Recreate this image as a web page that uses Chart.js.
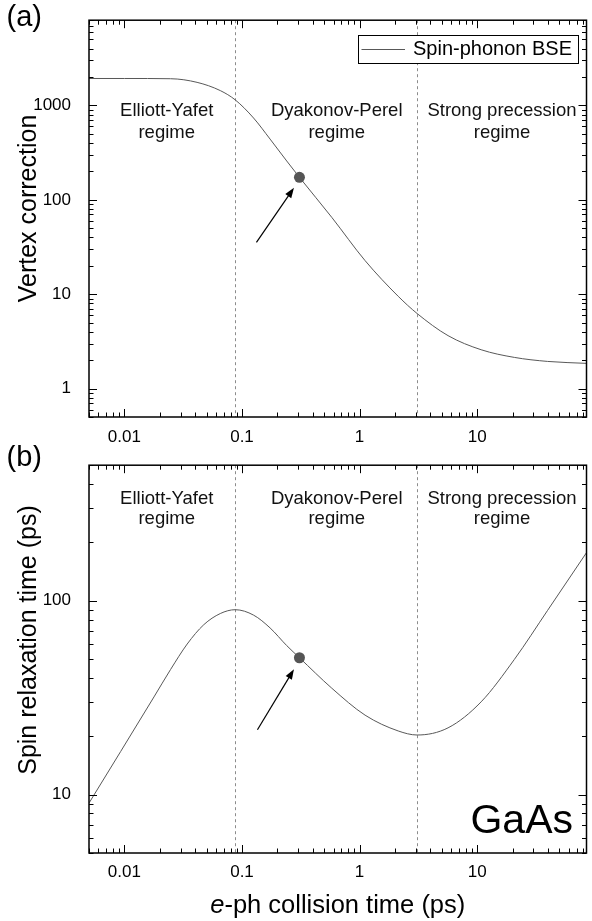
<!DOCTYPE html>
<html>
<head>
<meta charset="utf-8">
<script src="https://cdn.jsdelivr.net/npm/chart.js@4.4.1/dist/chart.umd.min.js"></script>
<style>
  html, body { margin: 0; padding: 0; background: #fff; }
  body { width: 592px; height: 921px; position: relative; overflow: hidden; }
  canvas { position: absolute; left: 0; }
  #chartA { top: 0; }
  #chartB { top: 445px; }
</style>
</head>
<body>
<canvas id="chartA" width="592" height="452"></canvas>
<canvas id="chartB" width="592" height="476"></canvas>
<script>
const FONT = "'Liberation Sans', Arial, Helvetica, sans-serif";

// ---- shared x axis: e-ph collision time (ps) ----
const xMin = 0.005, xMax = 85;
const xMajorTicks = [0.01, 0.1, 1, 10];
const xTickLabels = ['0.01', '0.1', '1', '10'];

// ---- panel (a): vertex correction ----
const tauA = [0.005, 0.01, 0.0247, 0.0415, 0.0654, 0.0876, 0.1254, 0.1733, 0.24, 0.308, 0.58, 1.113, 2.13, 3.08, 5.65, 10.8, 20.7, 39.7, 85];
const vertexCorrection = [1930, 1930, 1919, 1756, 1436, 1145, 736, 440, 258, 173, 65.2, 22.7, 9.5, 6.25, 3.64, 2.58, 2.14, 1.94, 1.85];
const yMinA = 0.5, yMaxA = 8000;
const yMajorTicksA = [1, 10, 100, 1000];
const yTickLabelsA = ['1', '10', '100', '1000'];

// ---- panel (b): spin relaxation time (ps) ----
const tauB = [0.00502, 0.0093, 0.01784, 0.0247, 0.0342, 0.0473, 0.0654, 0.0876, 0.1254, 0.1733, 0.24, 0.308, 0.58, 1.113, 2.13, 3.08, 5.65, 10.8, 20.7, 39.7, 85];
const spinRelaxationTime = [9.08, 16.7, 31.9, 44.2, 59.8, 75.2, 85.9, 89.9, 84.3, 72.4, 58.7, 50.8, 35.4, 25.7, 21.3, 20.3, 22.1, 30.1, 49.8, 89.2, 177];
const yMinB = 5, yMaxB = 500;
const yMajorTicksB = [10, 100];
const yTickLabelsB = ['10', '100'];

// ---- annotations ----
const regimeBoundaries = [0.0876, 3.08];
const markedTau = [0.308];
const markedVertex = [173];
const markedSpinTime = [50.8];
const regimeNames = [['Elliott-Yafet', 'regime'], ['Dyakonov-Perel', 'regime'], ['Strong precession', 'regime']];
const seriesLabel = 'Spin-phonon BSE';

const CURVE = '#585858';

function logTickList(min, max) {
  const out = [];
  for (let d = Math.floor(Math.log10(min)) - 1; d <= Math.ceil(Math.log10(max)); d++) {
    for (let m = 1; m <= 9; m++) {
      const v = m * Math.pow(10, d);
      if (v >= min * 0.9999 && v <= max * 1.0001) out.push({ v, major: m === 1 });
    }
  }
  return out;
}

function line(ctx, x1, y1, x2, y2) {
  ctx.beginPath(); ctx.moveTo(x1, y1); ctx.lineTo(x2, y2); ctx.stroke();
}

function arrow(ctx, tx, ty, hx, hy) {
  const ang = Math.atan2(hy - ty, hx - tx);
  const L = 10, W = 3.6;
  const bx = hx - L * Math.cos(ang), by = hy - L * Math.sin(ang);
  ctx.strokeStyle = '#000'; ctx.fillStyle = '#000'; ctx.lineWidth = 1.2;
  line(ctx, tx, ty, bx + 2 * Math.cos(ang), by + 2 * Math.sin(ang));
  ctx.beginPath();
  ctx.moveTo(hx, hy);
  ctx.lineTo(bx + W * Math.sin(ang), by - W * Math.cos(ang));
  ctx.lineTo(bx - W * Math.sin(ang), by + W * Math.cos(ang));
  ctx.closePath(); ctx.fill();
}

function panelPlugin(p) {
  return {
    id: 'panel' + p.key,
    beforeDatasetsDraw(chart) {
      const { ctx, chartArea: a, scales: { x } } = chart;
      ctx.save();
      ctx.strokeStyle = '#8c8c8c'; ctx.lineWidth = 1; ctx.setLineDash([3, 3]);
      regimeBoundaries.forEach(v => {
        const px = Math.round(x.getPixelForValue(v)) + 0.5;
        line(ctx, px, a.top, px, a.bottom);
      });
      ctx.setLineDash([]);
      ctx.fillStyle = '#111';
      ctx.font = '18.5px ' + FONT;
      ctx.textAlign = 'center'; ctx.textBaseline = 'alphabetic';
      p.regimeX.forEach((cx, i) => {
        ctx.fillText(regimeNames[i][0], cx, p.regimeY[0]);
        ctx.fillText(regimeNames[i][1], cx, p.regimeY[1]);
      });
      ctx.restore();
    },
    afterDatasetsDraw(chart) {
      const { ctx, chartArea: a, scales: { x, y } } = chart;
      ctx.save();
      // legend (panel a)
      if (p.legend) {
        const L = p.legend;
        ctx.fillStyle = '#fff';
        ctx.fillRect(L.x, L.y, L.w, L.h);
        ctx.strokeStyle = '#000'; ctx.lineWidth = 1;
        ctx.strokeRect(L.x + 0.5, L.y + 0.5, L.w, L.h);
        ctx.strokeStyle = CURVE; ctx.lineWidth = 1;
        line(ctx, L.x + 3.5, L.y + 14.5, L.x + 47, L.y + 14.5);
        ctx.fillStyle = '#000'; ctx.font = '20px ' + FONT;
        ctx.textAlign = 'left'; ctx.textBaseline = 'alphabetic';
        ctx.fillText(seriesLabel, L.x + 55, L.y + 19.5);
      }
      // ticks on all four sides (inward)
      ctx.strokeStyle = '#000'; ctx.lineWidth = 1;
      logTickList(xMin, xMax).forEach(t => {
        const px = Math.round(x.getPixelForValue(t.v)) + 0.5;
        const len = t.major ? 8 : 4.5;
        line(ctx, px, a.bottom, px, a.bottom - len);
        line(ctx, px, a.top, px, a.top + len);
      });
      logTickList(y.min, y.max).forEach(t => {
        const py = Math.round(y.getPixelForValue(t.v)) + 0.5;
        const len = t.major ? 8 : 4.5;
        line(ctx, a.left, py, a.left + len, py);
        line(ctx, a.right, py, a.right - len, py);
      });
      ctx.lineWidth = 1.5;
      ctx.strokeRect(a.left, a.top, a.right - a.left, a.bottom - a.top);
      // arrow to the marked point
      const dx = x.getPixelForValue(markedTau[0]);
      const dy = y.getPixelForValue(p.markedY[0]);
      arrow(ctx, dx + p.arrow[0], dy + p.arrow[1], dx + p.arrow[2], dy + p.arrow[3]);
      // panel letter
      ctx.fillStyle = '#000'; ctx.font = '29px ' + FONT;
      ctx.textAlign = 'left'; ctx.textBaseline = 'alphabetic';
      ctx.fillText(p.letter, 6.5, p.letterY);
      // y title
      ctx.save();
      ctx.translate(35.5, p.yTitleY);
      ctx.rotate(-Math.PI / 2);
      ctx.font = '25px ' + FONT; ctx.textAlign = 'center';
      ctx.fillText(p.yTitle, 0, 0);
      ctx.restore();
      // extra text
      if (p.material) {
        ctx.font = '41px ' + FONT; ctx.textAlign = 'right';
        ctx.fillText(p.material, 573, p.materialY);
      }
      if (p.xTitle) {
        ctx.font = 'italic 25.5px ' + FONT;
        const w1 = ctx.measureText('e').width;
        ctx.font = '25.5px ' + FONT;
        const rest = '-ph collision time (ps)';
        const w2 = ctx.measureText(rest).width;
        const sx = (a.left + a.right) / 2 - (w1 + w2) / 2;
        ctx.textAlign = 'left';
        ctx.font = 'italic 25.5px ' + FONT;
        ctx.fillText('e', sx, p.xTitleY);
        ctx.font = '25.5px ' + FONT;
        ctx.fillText(rest, sx + w1, p.xTitleY);
      }
      ctx.restore();
    }
  };
}

function makeChart(id, cfg) {
  const xs = {
    type: 'logarithmic', position: 'bottom', min: xMin, max: xMax, bounds: 'data',
    afterBuildTicks: ax => { ax.ticks = xMajorTicks.map(v => ({ value: v, major: true })); },
    ticks: {
      callback: v => { const i = xMajorTicks.indexOf(v); return i >= 0 ? xTickLabels[i] : ''; },
      font: { family: FONT, size: 17 }, color: '#000', padding: cfg.xLabelPad,
      maxRotation: 0, minRotation: 0, autoSkip: false
    },
    grid: { display: false }, border: { display: false },
    afterFit: ax => { ax.height = cfg.xAxisHeight; }
  };
  const ys = {
    type: 'logarithmic', position: 'left', min: cfg.yMin, max: cfg.yMax, bounds: 'data',
    afterBuildTicks: ax => { ax.ticks = cfg.yMajor.map(v => ({ value: v, major: true })); },
    ticks: {
      callback: v => { const i = cfg.yMajor.indexOf(v); return i >= 0 ? cfg.yLabels[i] : ''; },
      font: { family: FONT, size: 17 }, color: '#000', padding: 10, autoSkip: false
    },
    grid: { display: false }, border: { display: false },
    afterFit: ax => { ax.width = 89; }
  };
  return new Chart(document.getElementById(id), {
    type: 'line',
    data: {
      datasets: [
        {
          label: seriesLabel,
          data: cfg.xs.map((t, i) => ({ x: t, y: cfg.ys[i] })),
          borderColor: CURVE, borderWidth: 1, pointRadius: 0, fill: false,
          cubicInterpolationMode: 'monotone'
        },
        {
          type: 'scatter', label: 'marked',
          data: markedTau.map((t, i) => ({ x: t, y: cfg.markedY[i] })),
          pointRadius: 5.5, pointBackgroundColor: '#555', pointBorderWidth: 0,
          backgroundColor: '#555', borderWidth: 0
        }
      ]
    },
    options: {
      responsive: false, animation: false, devicePixelRatio: 1, events: [],
      layout: { padding: { top: cfg.padTop, right: 3, left: 0, bottom: 0 } },
      plugins: { legend: { display: false }, tooltip: { enabled: false }, title: { display: false } },
      scales: { x: xs, y: ys }
    },
    plugins: [panelPlugin(cfg.plugin)]
  });
}

makeChart('chartA', {
  xs: tauA, ys: vertexCorrection, yMin: yMinA, yMax: yMaxA,
  yMajor: yMajorTicksA, yLabels: yTickLabelsA, markedY: markedVertex,
  padTop: 17, xAxisHeight: 35, xLabelPad: 2,
  plugin: {
    key: 'A', regimeX: [166.7, 336.7, 502], regimeY: [116, 137.5],
    markedY: markedVertex, arrow: [-43, 65, -5.5, 10.5],
    letter: '(a)', letterY: 25.6, yTitle: 'Vertex correction', yTitleY: 208.5,
    legend: { x: 358, y: 35, w: 220, h: 28 }
  }
});

makeChart('chartB', {
  xs: tauB, ys: spinRelaxationTime, yMin: yMinB, yMax: yMaxB,
  yMajor: yMajorTicksB, yLabels: yTickLabelsB, markedY: markedSpinTime,
  padTop: 6, xAxisHeight: 68, xLabelPad: 1,
  plugin: {
    key: 'B', regimeX: [166.7, 336.7, 502], regimeY: [58.5, 79],
    markedY: markedSpinTime, arrow: [-42, 72, -5.5, 11.5],
    letter: '(b)', letterY: 20.6, yTitle: 'Spin relaxation time (ps)', yTitleY: 195,
    material: 'GaAs', materialY: 388, xTitle: true, xTitleY: 468
  }
});
</script>
</body>
</html>
